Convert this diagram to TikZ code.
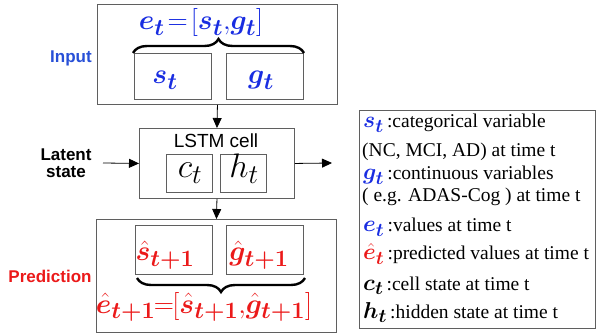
\RequirePackage{fix-cm}
\documentclass[tikz,border=0pt]{standalone}
\usepackage{amsmath,bm}
\usepackage{fontspec}
\setmainfont{Liberation Serif}
\setsansfont{Liberation Sans}
\usetikzlibrary{arrows.meta,decorations.pathreplacing}
\DeclareMathSizes{23}{23}{19}{14}
\DeclareMathSizes{28}{28}{23.5}{17}
\DeclareMathSizes{34}{34}{27}{20}
\definecolor{mblue}{RGB}{25,45,225}
\definecolor{lblue}{RGB}{40,80,215}
\definecolor{mred}{RGB}{235,25,25}
\definecolor{bgray}{RGB}{95,95,95}
\newcommand\lab{\sffamily\bfseries\fontsize{17}{19}\selectfont}
\newcommand\mathbigfont{\fontsize{28}{30}\selectfont}
\newcommand\legf{\fontsize{19.5}{22}\selectfont}
\newcommand\lgm[1]{{\fontsize{23}{22}\selectfont$#1$}}
\tikzset{
  box/.style={draw=bgray, line width=0.9pt, inner sep=0pt, anchor=north west},
  arr/.style={line width=0.8pt, -{Triangle[length=10pt,width=9pt]}},
  brc/.style={line width=2.4pt, decorate, decoration={brace, amplitude=14pt}},
  mtxt/.style={inner sep=0pt, anchor=base},
  legl/.style={inner sep=0pt, anchor=base west, font=\legf},
}
\begin{document}
\begin{tikzpicture}[x=1pt,y=-1pt]
\useasboundingbox (0,0) rectangle (596,336);
% input
\node[box, minimum width=240pt, minimum height=100pt] (inp) at (97,4) {};
\node[box, minimum width=77pt, minimum height=46pt] (sb) at (134,53) {};
\node[box, minimum width=77pt, minimum height=46pt] (gb) at (226,53) {};
\node[mtxt, text=mblue, font=\mathbigfont] (st) at (165,84) {$\bm{s}_{\bm t}$};
\node[mtxt, text=mblue, font=\mathbigfont] (gt) at (261,84) {$\bm{g}_{\bm t}$};
\node[mtxt, text=mblue, font=\mathbigfont] (et) at (201,30) {$\bm{e}_{\bm t}\!=\![\bm{s}_{\bm t},\!\bm{g}_{\bm t}]$};
\draw[brc] (133,53) coordinate (b1a) -- (304,53) coordinate (b1b);
\node[font=\lab, text=lblue] (linp) at (71,58) {Input};
% LSTM
\node[box, minimum width=155pt, minimum height=70pt] (lstm) at (139,128) {};
\node[inner sep=0pt, anchor=base, font=\sffamily\fontsize{19}{21}\selectfont] (lt) at (216,148) {LSTM cell};
\node[box, minimum width=46pt, minimum height=38pt] (cb) at (166,154) {};
\node[box, minimum width=46pt, minimum height=38pt] (hb) at (220,154) {};
\node[mtxt, font=\fontsize{34}{36}\selectfont] (ct) at (190,178) {$c_t$};
\node[mtxt, font=\fontsize{34}{36}\selectfont] (ht) at (244,178) {$h_t$};
\node[font=\lab, align=center] (llat) at (66,163) {Latent\\[-2pt]state};
\coordinate (lin) at (103,163);
\coordinate (lout) at (332,163);
\draw[arr] (lin) -- (lstm.west);
\draw[arr] (lstm.east) -- (lout);
\draw[arr] (inp.south) -- (lstm.north);
% prediction
\node[box, minimum width=240pt, minimum height=113pt] (pred) at (96,219) {};
\draw[arr] (lstm.south) -- (pred.north);
\node[box, minimum width=77pt, minimum height=49pt] (shb) at (135,225) {};
\node[box, minimum width=77pt, minimum height=49pt] (ghb) at (226,225) {};
\node[mtxt, text=mred, font=\mathbigfont] (sh) at (165,261) {$\hat{\bm s}_{\bm{t+1}}$};
\node[mtxt, text=mred, font=\mathbigfont] (gh) at (259,261) {$\hat{\bm g}_{\bm{t+1}}$};
\draw[brc] (305,278) coordinate (b2a) -- (137,278) coordinate (b2b);
\node[mtxt, text=mred, font=\mathbigfont] (eh) at (204,313) {$\hat{\bm e}_{\bm{t+1}}\!\!=\!\![\hat{\bm s}_{\bm{t+1}},\!\hat{\bm g}_{\bm{t+1}}]$};
\node[font=\lab, text=mred] (lpred) at (50,276) {Prediction};
% legend
\node[box, minimum width=236pt, minimum height=218pt] (leg) at (359,110) {};
\node[legl] (l1) at (363,128) {\textcolor{mblue}{\lgm{\bm{s}_{\bm t}}}\,:categorical variable};
\node[legl] (l2) at (362,157) {(NC, MCI, AD) at time t};
\node[legl] (l3) at (363,180) {\textcolor{mblue}{\lgm{\bm{g}_{\bm t}}}\,:continuous variables};
\node[legl] (l4) at (362,202) {( e.g. ADAS-Cog ) at time t};
\node[legl] (l5) at (363,232) {\textcolor{mblue}{\lgm{\bm{e}_{\bm t}}}\,:values at time t};
\node[legl] (l6) at (363,260) {\textcolor{mred}{\lgm{\hat{\bm e}_{\bm t}}}\,:predicted values at time t};
\node[legl] (l7) at (363,290) {\lgm{\bm{c}_{\bm t}}\,:cell state at time t};
\node[legl] (l8) at (363,318) {\lgm{\bm{h}_{\bm t}}\,:hidden state at time t};
\end{tikzpicture}
\end{document}
